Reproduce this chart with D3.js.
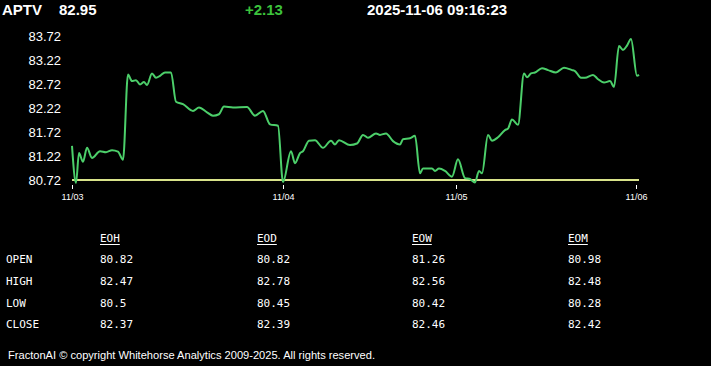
<!DOCTYPE html>
<html><head><meta charset="utf-8">
<script src="https://cdn.jsdelivr.net/npm/d3@7"></script>
<style>
html,body{margin:0;padding:0;background:#000;overflow:hidden}
svg{display:block}
</style></head>
<body>
<script>
// ---- data ----
const symbol = "APTV";
const lastPrice = "82.95";
const change = "+2.13";
const stamp = "2025-11-06 09:16:23";

// bar index along the session axis, and price
const barIndex = [0,4,7,11,15,20,28,34,40,46,51,56,60,64,68,72,75,80,84,88,93,99,104,111,121,127,135,141,147,152,161,175,183,191,198,206,211,219,223,228,231,237,243,251,259,263,267,278,285,291,296,304,308,314,321,328,331,338,343,348,351,360,363,367,373,380,386,393,398,403,407,410,416,420,426,433,436,440,446,452,455,459,463,470,476,484,492,500,503,509,513,521,526,532,538,542,547,551,555,559,565,567];
const prices = [81.43,80.66,81.28,81.10,81.39,81.18,81.32,81.30,81.34,81.31,81.14,82.92,82.78,82.80,82.71,82.76,82.70,82.94,82.85,82.89,82.96,82.96,82.35,82.30,82.16,82.23,82.13,82.06,82.09,82.25,82.23,82.24,82.06,82.16,81.88,81.85,80.68,81.32,81.07,81.28,81.32,81.54,81.55,81.39,81.54,81.46,81.55,81.45,81.48,81.66,81.60,81.69,81.66,81.69,81.53,81.46,81.57,81.59,81.64,80.86,80.96,80.96,80.91,80.96,80.91,80.79,81.15,80.76,80.74,80.67,80.91,80.86,81.66,81.54,81.61,81.76,81.79,81.98,81.87,82.94,82.86,82.94,82.96,83.05,83.01,82.96,83.06,83.01,82.99,82.85,82.85,82.91,82.82,82.75,82.78,82.66,83.51,83.43,83.52,83.66,82.89,82.91];
const baseLevel = 80.72;
const yTicks = [80.72,81.22,81.72,82.22,82.72,83.22,83.72];
const dayTickIndex = [0,211,384,564];
const dayTickLabels = ["11/03","11/04","11/05","11/06"];

const colHeaders = ["EOH","EOD","EOW","EOM"];
const rowLabels = ["OPEN","HIGH","LOW","CLOSE"];
const tableValues = [
  ["80.82","80.82","81.26","80.98"],
  ["82.47","82.78","82.56","82.48"],
  ["80.5","80.45","80.42","80.28"],
  ["82.37","82.39","82.46","82.42"]
];
const footer = "FractonAI \u00A9 copyright Whitehorse Analytics 2009-2025. All rights reserved.";

// ---- drawing ----
const W = 711, H = 366;
const svg = d3.select("body").append("svg").attr("width", W).attr("height", H)
  .style("background", "#000");

// header
const hdr = svg.append("g").attr("font-family", "Liberation Sans, Arial, sans-serif")
  .attr("font-weight", "bold").attr("font-size", 15);
hdr.append("text").attr("x", 2).attr("y", 15).attr("fill", "#fff").text(symbol);
hdr.append("text").attr("x", 59).attr("y", 15).attr("fill", "#fff").text(lastPrice);
hdr.append("text").attr("x", 245).attr("y", 15).attr("fill", "#3cc23c").text(change);
hdr.append("text").attr("x", 367).attr("y", 15).attr("fill", "#fff").text(stamp);

// scales
const x = d3.scaleLinear().domain([0, 567]).range([72, 639]);
const y = d3.scaleLinear().domain([80.72, 83.72]).range([180, 36]);

// y labels
const yAxis = d3.axisLeft(y).tickValues(yTicks).tickFormat(d3.format(".2f")).tickSize(0).tickPadding(0);
const gy = svg.append("g").attr("transform", "translate(61,0)").call(yAxis);
gy.select(".domain").remove();
gy.selectAll("text").attr("fill", "#fff").attr("font-size", 13)
  .attr("font-family", "Liberation Sans, Arial, sans-serif");

// x ticks
const xAxis = d3.axisBottom(x).tickValues(dayTickIndex)
  .tickFormat((d, i) => dayTickLabels[i]).tickSize(4).tickPadding(5);
const gx = svg.append("g").attr("transform", "translate(0,185)").call(xAxis);
gx.select(".domain").remove();
gx.selectAll("line").attr("stroke", "#fff").attr("stroke-width", 1);
gx.selectAll("text").attr("fill", "#fff").attr("font-size", 9)
  .attr("font-family", "Liberation Sans, Arial, sans-serif");

// base line
svg.append("line")
  .attr("x1", x(0)).attr("x2", x(567))
  .attr("y1", y(baseLevel)).attr("y2", y(baseLevel))
  .attr("stroke", "#d9e38a").attr("stroke-width", 2);

// price line
const pts = barIndex.map((b, i) => [b, prices[i]]);
const line = d3.line().x(d => x(d[0])).y(d => y(d[1])).curve(d3.curveMonotoneX);
svg.append("path").datum(pts).attr("d", line)
  .attr("fill", "none").attr("stroke", "#4ccf6a").attr("stroke-width", 2)
  .attr("stroke-linejoin", "round");

// table
const colX = [100, 257, 412, 568];
const rowY = [263, 285, 307, 328];
const tbl = svg.append("g").attr("font-family", "DejaVu Sans Mono, monospace")
  .attr("font-size", 11).attr("fill", "#fff");
colHeaders.forEach((h, i) => {
  tbl.append("text").attr("x", colX[i]).attr("y", 242).text(h);
  tbl.append("line").attr("x1", colX[i]).attr("x2", colX[i] + h.length * 6.6)
    .attr("y1", 244.5).attr("y2", 244.5).attr("stroke", "#fff").attr("stroke-width", 1);
});
rowLabels.forEach((r, j) => {
  tbl.append("text").attr("x", 6).attr("y", rowY[j]).text(r);
  tableValues[j].forEach((v, i) => {
    tbl.append("text").attr("x", colX[i]).attr("y", rowY[j]).text(v);
  });
});

// footer
svg.append("text").attr("x", 8).attr("y", 359).attr("fill", "#fff")
  .attr("font-family", "Liberation Sans, Arial, sans-serif").attr("font-size", 11)
  .attr("textLength", 367).attr("lengthAdjust", "spacingAndGlyphs")
  .text(footer);
</script>
</body></html>
